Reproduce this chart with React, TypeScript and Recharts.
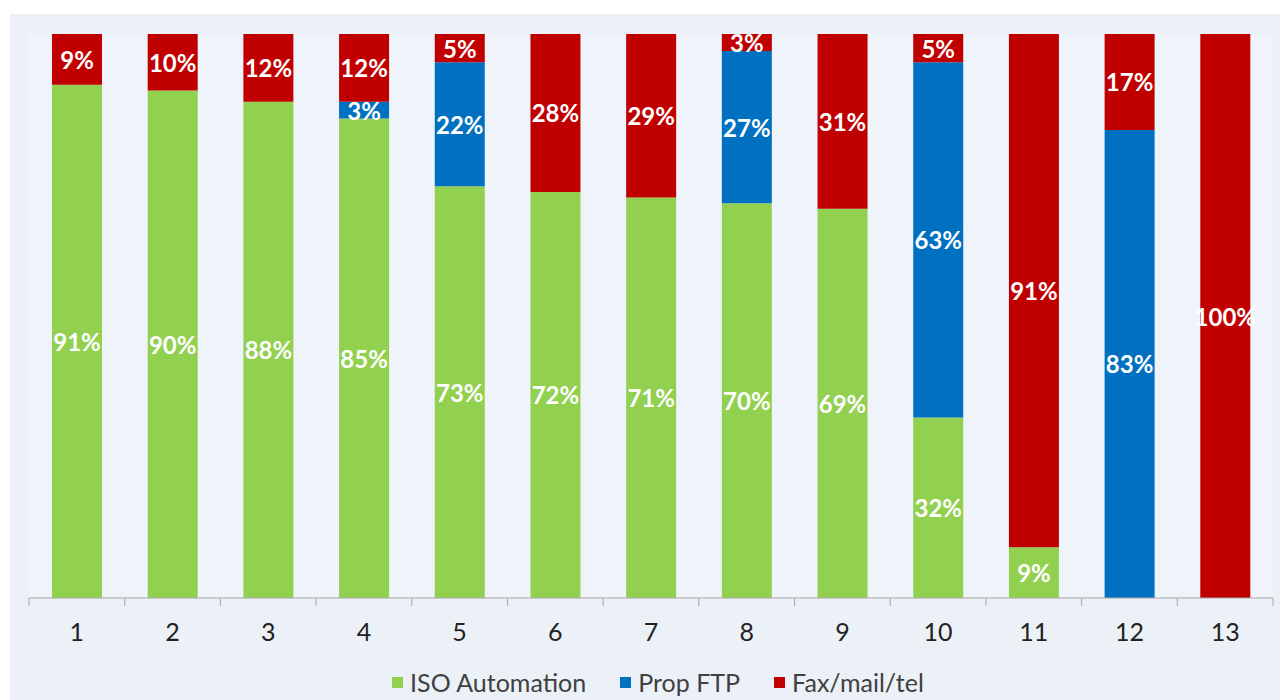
import { BarChart, Bar, XAxis, YAxis, CartesianGrid, Legend, LabelList } from "recharts";

const CATEGORIES = ["1", "2", "3", "4", "5", "6", "7", "8", "9", "10", "11", "12", "13"];
const ISO_AUTOMATION = [91, 90, 88, 85, 73, 72, 71, 70, 69, 32, 9, 0, 0];
const PROP_FTP = [0, 0, 0, 3, 22, 0, 0, 27, 0, 63, 0, 83, 0];
const FAX_MAIL_TEL = [9, 10, 12, 12, 5, 28, 29, 3, 31, 5, 91, 17, 100];

const SERIES = [
  { key: "iso", label: "ISO Automation", color: "#92d050" },
  { key: "prop", label: "Prop FTP", color: "#0070c0" },
  { key: "fax", label: "Fax/mail/tel", color: "#c00000" },
];

const FONT = "Lato, 'Open Sans', sans-serif";

const data = CATEGORIES.map((c, i) => ({
  name: c,
  idx: i + 0.5,
  iso: ISO_AUTOMATION[i],
  prop: PROP_FTP[i],
  fax: FAX_MAIL_TEL[i],
}));

function SegmentLabel(props: any) {
  const { x, y, width, height, value } = props;
  if (!value) return null;
  return (
    <text
      x={Number(x) + Number(width) / 2}
      y={Number(y) + Number(height) / 2}
      textAnchor="middle"
      dominantBaseline="central"
      fill="#fff"
      fontFamily={FONT}
      fontWeight={700}
      fontSize={24}
    >
      {value}%
    </text>
  );
}

function LegendContent() {
  return (
    <div
      style={{
        height: 42,
        display: "flex",
        justifyContent: "center",
        alignItems: "center",
        gap: 34,
        fontFamily: FONT,
        fontSize: 25,
        color: "#404040",
        paddingLeft: 14,
        paddingTop: 6,
        boxSizing: "border-box",
      }}
    >
      {SERIES.map((s) => (
        <div key={s.key} style={{ display: "flex", alignItems: "center", gap: 7 }}>
          <span style={{ width: 11, height: 11, background: s.color, display: "inline-block" }} />
          <span>{s.label}</span>
        </div>
      ))}
    </div>
  );
}

export default function App() {
  return (
    <div style={{ position: "absolute", left: 0, top: 0, width: 1280, height: 700, background: "#fff" }}>
      <div style={{ position: "absolute", left: 10, top: 14, width: 1270, height: 686, background: "#ecf1f8" }}>
        <BarChart
          width={1270}
          height={686}
          data={data}
          barSize={50}
          margin={{ top: 20, right: 7, left: 19, bottom: 0 }}
        >
          <CartesianGrid horizontal={false} vertical={false} fill="#eff4fa" stroke="none" />
          <XAxis
            xAxisId="axis1"
            dataKey="name"
            axisLine={false}
            tickLine={false}
            height={50}
            tick={{ fontSize: 25, fill: "#222", fontFamily: FONT }}
            dy={7}
          />
          <XAxis
            xAxisId="axis0"
            type="number"
            dataKey="idx"
            domain={[0, 13]}
            ticks={[0, 1, 2, 3, 4, 5, 6, 7, 8, 9, 10, 11, 12, 13]}
            tickFormatter={() => ""}
            tickSize={8}
            height={10}
            axisLine={{ stroke: "#a6a6a6" }}
            tickLine={{ stroke: "#a6a6a6" }}
          />
          <YAxis hide domain={[0, 100]} />
          <Legend verticalAlign="bottom" content={<LegendContent />} />
          {SERIES.map((s) => (
            <Bar
              key={s.key}
              xAxisId="axis1"
              dataKey={s.key}
              name={s.label}
              stackId="a"
              fill={s.color}
              isAnimationActive={false}
            >
              <LabelList dataKey={s.key} content={<SegmentLabel />} />
            </Bar>
          ))}
        </BarChart>
      </div>
    </div>
  );
}
